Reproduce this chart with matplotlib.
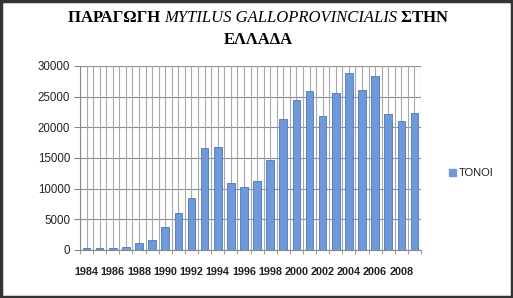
import matplotlib
matplotlib.use("Agg")
import matplotlib.pyplot as plt
from matplotlib.patches import Rectangle
import numpy as np

years = list(range(1984, 2010))
tonnes = [300, 300, 300, 500, 1200, 1700, 3800, 6000, 8500, 16700, 16800, 11000, 10300,
          11200, 14600, 21300, 24400, 26000, 21900, 25600, 28900, 26100, 28400, 22200,
          21100, 22400]
xlabels = [str(y) for y in years[::2]]
yticks = [0, 5000, 10000, 15000, 20000, 25000, 30000]
series_name = "TONOI"
title_parts = [("ΠΑΡΑΓΩΓΗ ", "normal", "bold"),
               ("MYTILUS GALLOPROVINCIALIS", "italic", "normal"),
               (" ΣΤΗΝ", "normal", "bold")]
title_line2 = "ΕΛΛΑΔΑ"

W, H = 513, 298
fig = plt.figure(figsize=(W / 100, H / 100), dpi=100)
fig.patch.set_facecolor("white")

ax = fig.add_axes([80 / W, 1 - 250 / H, (421 - 80) / W, (250 - 66) / H])
x = np.arange(len(years))
bars = ax.bar(x, tonnes, width=0.58, color="#6f99d8", edgecolor="#4a78b8",
              linewidth=0.6, zorder=3, label=series_name)
ax.set_xlim(-0.5, len(years) - 0.5)
ax.set_ylim(0, 30000)
ax.set_yticks(yticks)
ax.set_yticklabels([str(v) for v in yticks], fontsize=8.3, family="Liberation Sans",
                   color="#222222")
ax.set_xticks(x[::2])
ax.set_xticklabels(xlabels, fontsize=7.8, family="Liberation Sans", fontweight="bold",
                   color="#222222")
ax.tick_params(axis="x", length=0, pad=12)
ax.tick_params(axis="y", length=4, color="#888888", pad=3)
ax.set_xticks(np.arange(-0.5, len(years), 1), minor=True)
ax.tick_params(axis="x", which="minor", length=3, color="#888888")

for yv in yticks:
    ax.axhline(yv, color="#8c8c8c", lw=0.8, zorder=1)
for xv in np.arange(-0.5, len(years), 0.5):
    ax.axvline(xv, color="#a8a8a8", lw=0.8, zorder=1)
for s in ["top", "right"]:
    ax.spines[s].set_visible(False)
ax.spines["left"].set_color("#888888")
ax.spines["bottom"].set_color("#888888")

# legend
fig.patches.append(Rectangle((449 / W, 1 - 176 / H), 7 / W, 7 / H,
                             transform=fig.transFigure, facecolor="#6f99d8",
                             edgecolor="#6f99d8", figure=fig))
fig.text(459 / W, 1 - 172.5 / H, series_name, fontsize=8, family="Liberation Sans",
         va="center", ha="left", color="#222222")

# title composed from parts
renderer = fig.canvas.get_renderer()
texts = []
for s, style, weight in title_parts:
    t = fig.text(0, 1 - 18 / H, s, fontsize=12, family="Liberation Serif",
                 style=style, fontweight=weight, va="center", ha="left")
    texts.append(t)
widths = [t.get_window_extent(renderer).width for t in texts]
total = sum(widths)
cx = 258
start = cx - total / 2
for t, w in zip(texts, widths):
    t.set_x(start / W)
    start += w
fig.text(cx / W, 1 - 40 / H, title_line2, fontsize=12, family="Liberation Serif",
         fontweight="bold", va="center", ha="center")

# outer border
fig.patches.append(Rectangle((1 / W, 1 / H), (W - 2) / W, (H - 2) / H,
                             transform=fig.transFigure, fill=False,
                             edgecolor="#333333", lw=2.5, figure=fig))

fig.savefig("out.png", dpi=100)
